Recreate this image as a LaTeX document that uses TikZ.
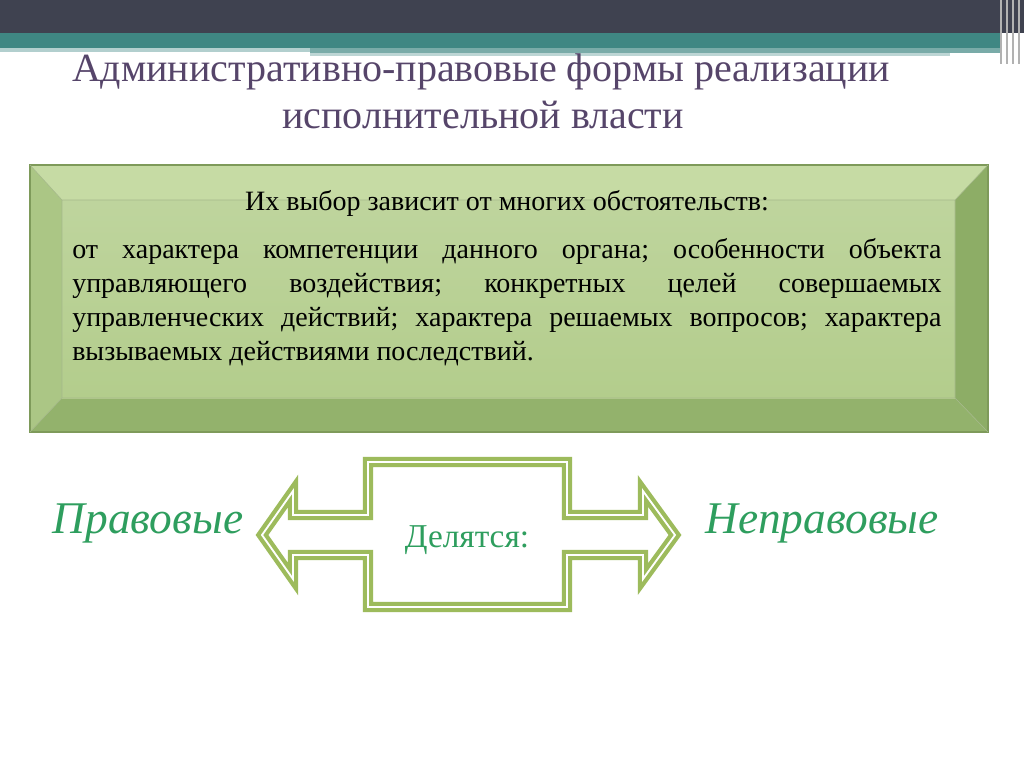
\documentclass[tikz,border=0pt]{standalone}
\usepackage{fontspec}
\setmainfont{Liberation Serif}
\begin{document}
\frenchspacing
\begin{tikzpicture}[x=0.75pt,y=-0.75pt,
  title/.style={text=titlec,font=\fontsize{30}{36}\selectfont},
  green/.style={text=greenc,font=\itshape\fontsize{34}{40}\selectfont},
  arr/.style={draw=arrowc,line width=3.2pt,double=white,double distance=1.4pt,line join=miter}]
\definecolor{titlec}{HTML}{56456A}
\definecolor{barc}{HTML}{3F4250}
\definecolor{tealc}{HTML}{3F8783}
\definecolor{facec}{HTML}{B3CD8C}
\definecolor{topb}{HTML}{C6DBA4}
\definecolor{leftb}{HTML}{ABC685}
\definecolor{rightb}{HTML}{8DAD66}
\definecolor{botb}{HTML}{93B26C}
\definecolor{edgec}{HTML}{7E9A5A}
\definecolor{arrowc}{HTML}{9DBB5C}
\definecolor{greenc}{HTML}{2E9E5E}
\useasboundingbox (0,0) rectangle (1024,767);
\fill[white] (0,0) rectangle (1024,767);
% top bar
\fill[barc] (0,0) rectangle (1024,33);
\fill[tealc] (0,33) rectangle (1000,48);
\fill[tealc!40] (0,48) rectangle (310,52);
\fill[tealc!70] (310,48) rectangle (1000,53);
\fill[tealc!35] (310,53) rectangle (950,56);
\foreach \xx in {1000,1006,1012,1018} \fill[gray!60] (\xx,0) rectangle ++(2,64);
% title
\node[title] (t1) at (481,72) {Административно-правовые формы реализации};
\node[title] (t2) at (483,115) {исполнительной власти};
% bevel box
\fill[topb] (30,165) -- (988,165) -- (955,200) -- (62,200) -- cycle;
\fill[leftb] (30,165) -- (62,200) -- (62,398) -- (30,432) -- cycle;
\fill[rightb] (988,165) -- (988,432) -- (955,398) -- (955,200) -- cycle;
\fill[botb] (30,432) -- (62,398) -- (955,398) -- (988,432) -- cycle;
\shade[top color=facec!85!white,bottom color=facec] (62,200) rectangle (955,398);
\draw[edgec,line width=0.8pt] (30,165) rectangle (988,432);
\draw[edgec!70,line width=0.4pt] (62,200) rectangle (955,398) (30,165)--(62,200) (988,165)--(955,200) (30,432)--(62,398) (988,432)--(955,398);
\node[font=\fontsize{21}{25}\selectfont] (h) at (507,203) {Их выбор зависит от многих обстоятельств:};
\node[font=\fontsize{21}{25.5}\selectfont,text width=652pt,align=justify,anchor=north west,inner sep=0pt] (p) at (72,238)
{\frenchspacing от характера компетенции данного органа; особенности объекта управляющего воздействия; конкретных целей совершаемых управленческих действий; характера решаемых вопросов; характера вызываемых действиями последствий.};
% double arrow
\draw[arr] (262,535) -- (293,491) -- (293,515) -- (368,515) -- (368,462) -- (567,462) -- (567,515) -- (643,515) -- (643,491) -- (675,535) -- (643,579) -- (643,555) -- (567,555) -- (567,607) -- (368,607) -- (368,555) -- (293,555) -- (293,579) -- cycle;
\node[text=greenc,font=\fontsize{25}{30}\selectfont] (d) at (467,540) {Делятся:};
\node[green] (l) at (148,523) {Правовые};
\node[green] (r) at (822,523) {Неправовые};
\end{tikzpicture}
\end{document}
